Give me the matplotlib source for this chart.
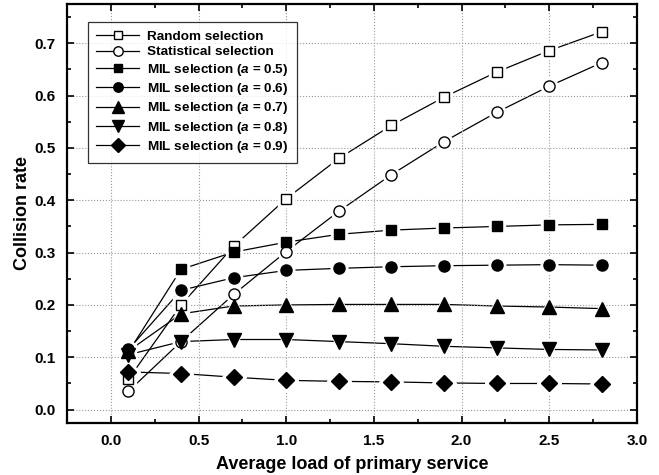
import numpy as np
import matplotlib
matplotlib.use("Agg")
import matplotlib.pyplot as plt
from matplotlib.ticker import MultipleLocator

plt.rcParams['font.family'] = ['Liberation Sans', 'DejaVu Sans']
plt.rcParams['font.weight'] = 'bold'
plt.rcParams['mathtext.fontset'] = 'custom'
plt.rcParams['mathtext.rm'] = 'Liberation Sans:bold'
plt.rcParams['mathtext.bfit'] = 'Liberation Sans:italic:bold'
plt.rcParams['mathtext.it'] = 'Liberation Sans:italic:bold'

# average load of primary service
load = [0.1, 0.4, 0.7, 1.0, 1.3, 1.6, 1.9, 2.2, 2.5, 2.8]

random_sel = [0.058, 0.200, 0.312, 0.403, 0.480, 0.543, 0.597, 0.645, 0.686, 0.722]
statistical_sel = [0.035, 0.130, 0.220, 0.302, 0.379, 0.449, 0.512, 0.568, 0.618, 0.663]
mil_05 = [0.110, 0.268, 0.301, 0.320, 0.335, 0.343, 0.347, 0.350, 0.353, 0.354]
mil_06 = [0.115, 0.228, 0.252, 0.266, 0.270, 0.273, 0.275, 0.276, 0.277, 0.276]
mil_07 = [0.112, 0.183, 0.198, 0.200, 0.201, 0.201, 0.201, 0.198, 0.196, 0.193]
mil_08 = [0.105, 0.130, 0.134, 0.134, 0.130, 0.126, 0.121, 0.118, 0.115, 0.114]
mil_09 = [0.072, 0.069, 0.062, 0.056, 0.054, 0.053, 0.051, 0.050, 0.050, 0.049]

labels = ['Random selection', 'Statistical selection',
          r'MIL selection ($\mathbfit{a}$ = 0.5)', r'MIL selection ($\mathbfit{a}$ = 0.6)',
          r'MIL selection ($\mathbfit{a}$ = 0.7)', r'MIL selection ($\mathbfit{a}$ = 0.8)',
          r'MIL selection ($\mathbfit{a}$ = 0.9)']

series = [random_sel, statistical_sel, mil_05, mil_06, mil_07, mil_08, mil_09]
markers = ['s', 'o', 's', 'o', '^', 'v', 'D']
faces = ['white', 'white', 'black', 'black', 'black', 'black', 'black']
sizes = [7.5, 8, 7.5, 8, 9.5, 9.5, 8.5]

fig = plt.figure(figsize=(6.59, 4.75), dpi=100)
ax = fig.add_axes([0.1017, 0.1095, 0.8649, 0.8821])

handles = []
for ys, m, fc, ms, lab in zip(series, markers, faces, sizes, labels):
    ax.plot(load, ys, color='black', lw=0.9, zorder=1)
    # white halo so the line stops short of each marker
    ax.plot(load, ys, linestyle='none', marker=m, ms=ms + 4, color='white',
            markeredgecolor='white', zorder=2)
    ax.plot(load, ys, linestyle='none', marker=m, ms=ms, markerfacecolor=fc,
            markeredgecolor='black', markeredgewidth=1.0, zorder=3)
    h, = ax.plot([], [], color='black', lw=0.9, marker=m, ms=ms * 0.85,
                 markerfacecolor=fc, markeredgecolor='black', markeredgewidth=1.0)
    handles.append(h)

ax.set_xlim(-0.25, 3.0)
ax.set_ylim(-0.0255, 0.775)
ax.xaxis.set_major_locator(MultipleLocator(0.5))
ax.xaxis.set_minor_locator(MultipleLocator(0.25))
ax.yaxis.set_major_locator(MultipleLocator(0.1))
ax.yaxis.set_minor_locator(MultipleLocator(0.05))
ax.xaxis.set_major_formatter(matplotlib.ticker.FormatStrFormatter('%.1f'))
ax.yaxis.set_major_formatter(matplotlib.ticker.FormatStrFormatter('%.1f'))

ax.grid(True, which='major', linestyle=':', color='#999999', lw=0.8)
ax.tick_params(which='both', direction='in', top=True, right=True, width=1.2)
ax.tick_params(which='major', length=5, labelsize=11, pad=8)
ax.tick_params(which='minor', length=3)
for lbl in ax.get_xticklabels() + ax.get_yticklabels():
    lbl.set_fontweight('bold')
for sp in ax.spines.values():
    sp.set_linewidth(1.6)

ax.set_xlabel('Average load of primary service', fontsize=13, fontweight='bold', labelpad=6)
ax.set_ylabel('Collision rate', fontsize=13, fontweight='bold', labelpad=2.5)

leg = ax.legend(handles, labels, loc='upper left', bbox_to_anchor=(0.037, 0.957),
                fontsize=9.7, frameon=True, fancybox=False, edgecolor='black',
                handlelength=3.2, borderaxespad=0, labelspacing=0.25,
                borderpad=0.6, handletextpad=0.6)
leg.get_frame().set_linewidth(0.9)
for t in leg.get_texts():
    t.set_fontweight('bold')

fig.savefig('out.png', dpi=100)
